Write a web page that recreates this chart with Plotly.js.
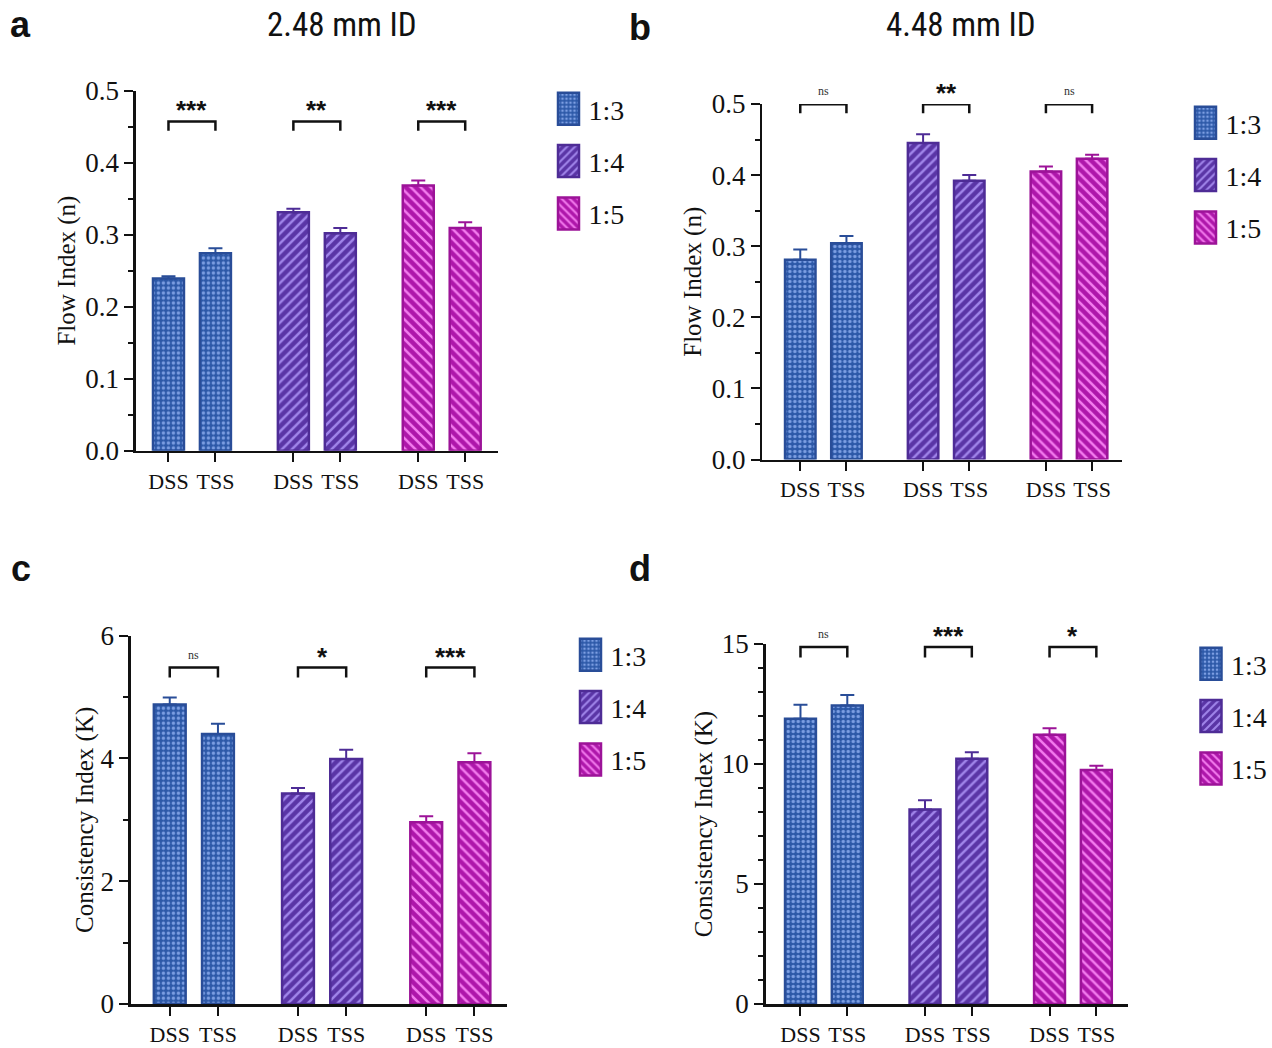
<!DOCTYPE html>
<html>
<head>
<meta charset="utf-8">
<script src="https://cdn.plot.ly/plotly-3.0.1.min.js"></script>
<style>
  html, body { margin: 0; padding: 0; background: #ffffff; }
  #chart { width: 1272px; height: 1048px; }
</style>
</head>
<body>
<div id="chart"></div>
<script>
// ---------------- DATA ----------------
const ratios = ['1:3', '1:4', '1:5'];
const conditions = ['DSS', 'TSS'];

// Panel a: Flow index, 2.48 mm ID
const flow248_DSS = [0.239, 0.331, 0.368];
const flow248_TSS = [0.274, 0.302, 0.309];
const flow248_DSS_err = [0.003, 0.005, 0.007];
const flow248_TSS_err = [0.007, 0.007, 0.008];
const flow248_sig = ['***', '**', '***'];

// Panel b: Flow index, 4.48 mm ID
const flow448_DSS = [0.281, 0.445, 0.405];
const flow448_TSS = [0.304, 0.392, 0.423];
const flow448_DSS_err = [0.0145, 0.0125, 0.007];
const flow448_TSS_err = [0.0105, 0.008, 0.0056];
const flow448_sig = ['ns', '**', 'ns'];

// Panel c: Consistency index, 2.48 mm ID
const cons248_DSS = [4.88, 3.43, 2.96];
const cons248_TSS = [4.40, 3.99, 3.94];
const cons248_DSS_err = [0.115, 0.09, 0.10];
const cons248_TSS_err = [0.165, 0.15, 0.147];
const cons248_sig = ['ns', '*', '***'];

// Panel d: Consistency index, 4.48 mm ID
const cons448_DSS = [11.89, 8.10, 11.22];
const cons448_TSS = [12.44, 10.22, 9.75];
const cons448_DSS_err = [0.58, 0.39, 0.27];
const cons448_TSS_err = [0.43, 0.27, 0.18];
const cons448_sig = ['ns', '***', '*'];

// Significance bracket heights [bar top, leg bottom] per panel
const bracket248_flow = [0.457, 0.444];
const bracket448_flow = [0.4995, 0.487];
const bracket248_cons = [5.48, 5.32];
const bracket448_cons = [14.875, 14.44];

const panelTitles = ['2.48 mm ID', '4.48 mm ID'];
const panelLetters = ['a', 'b', 'c', 'd'];
const yTitles = ['Flow Index (n)', 'Flow Index (n)', 'Consistency Index (K)', 'Consistency Index (K)'];

// ---------------- STYLE ----------------
const W = 1272, H = 1048;
const SERIF = 'Liberation Serif';
const SANS = 'Liberation Sans';
const NARROW = 'Liberation Sans Narrow, Roboto Condensed, DejaVu Sans Condensed, Roboto, sans-serif';

const ratioStyle = [
  {color: '#2D59A8', line: '#294D98', fg: '#7C9EE2', shape: '.', size: 5, solidity: 0.36},
  {color: '#5A35A6', line: '#4E2C96', fg: '#A085EA', shape: '/', size: 7, solidity: 0.36},
  {color: '#AE17AA', line: '#9C1398', fg: '#F37BEE', shape: '\\', size: 7, solidity: 0.36}
];

const GROUP_STEP = 2.66;
const BAR_W = 0.66;
function xpos(g, c) { return g * GROUP_STEP + c; }

const panels = [
  {dss: flow248_DSS, tss: flow248_TSS, de: flow248_DSS_err, te: flow248_TSS_err, sig: flow248_sig, br: bracket248_flow,
   px: [136, 498], py: [90.5, 450.7], yr: [0, 0.5], xr: [-0.694, 7.01], dtick: 0.1, minor: 0.05, fmt: '.1f',
   leg: [548.5, 84], standoff: 3},
  {dss: flow448_DSS, tss: flow448_TSS, de: flow448_DSS_err, te: flow448_TSS_err, sig: flow448_sig, br: bracket448_flow,
   px: [763, 1123], py: [104, 459.5], yr: [0, 0.5], xr: [-0.82, 6.97], dtick: 0.1, minor: 0.05, fmt: '.1f',
   leg: [1185.5, 98], standoff: 3},
  {dss: cons248_DSS, tss: cons248_TSS, de: cons248_DSS_err, te: cons248_TSS_err, sig: cons248_sig, br: bracket248_cons,
   px: [131, 507.6], py: [635.7, 1004], yr: [0, 6], xr: [-0.806, 7.0], dtick: 2, minor: 1, fmt: 'd',
   leg: [570.5, 630], standoff: 0},
  {dss: cons448_DSS, tss: cons448_TSS, de: cons448_DSS_err, te: cons448_TSS_err, sig: cons448_sig, br: bracket448_cons,
   px: [766.3, 1128.6], py: [644, 1004], yr: [0, 15], xr: [-0.743, 6.99], dtick: 5, minor: 1, fmt: 'd',
   leg: [1191.5, 639], standoff: 2}
];

const traces = [];
const annotations = [];
const layout = {
  width: W, height: H,
  margin: {l: 0, r: 0, t: 0, b: 0},
  paper_bgcolor: '#ffffff', plot_bgcolor: '#ffffff',
  barmode: 'overlay',
  showlegend: true,
  annotations: annotations,
  font: {family: SERIF, color: '#111111'}
};

panels.forEach((p, i) => {
  const n = i + 1;
  const xa = n === 1 ? 'x' : 'x' + n;
  const ya = n === 1 ? 'y' : 'y' + n;
  const legId = n === 1 ? 'legend' : 'legend' + n;

  const tickvals = [], ticktext = [];
  ratios.forEach((r, g) => {
    conditions.forEach((c, ci) => { tickvals.push(xpos(g, ci)); ticktext.push(c); });
    const st = ratioStyle[g];
    traces.push({
      type: 'bar', name: r, legend: legId, legendgroup: 'p' + n + 'g' + g,
      x: [xpos(g, 0), xpos(g, 1)], y: [p.dss[g], p.tss[g]],
      xaxis: xa, yaxis: ya, width: BAR_W,
      marker: {
        color: st.color,
        line: {color: st.line, width: 2.5},
        pattern: {shape: st.shape, fgcolor: st.fg, bgcolor: st.color, fillmode: 'replace',
                  size: st.size, solidity: st.solidity}
      },
      error_y: {type: 'data', symmetric: false, array: [p.de[g], p.te[g]], arrayminus: [0, 0],
                color: st.line, thickness: 2, width: 7},
      hoverinfo: 'skip'
    });
    // significance bracket
    const x0 = xpos(g, 0), x1 = xpos(g, 1);
    traces.push({
      type: 'scatter', mode: 'lines', showlegend: false, cliponaxis: false, hoverinfo: 'skip',
      x: [x0, x0, x1, x1], y: [p.br[1], p.br[0], p.br[0], p.br[1]],
      xaxis: xa, yaxis: ya, line: {color: '#111111', width: 2.5}
    });
    const isNs = p.sig[g] === 'ns';
    annotations.push({
      xref: xa, yref: ya, x: (x0 + x1) / 2, y: p.br[0], yanchor: 'bottom', xanchor: 'center',
      text: isNs ? 'ns' : '<b>' + p.sig[g] + '</b>', showarrow: false,
      yshift: isNs ? 4 : -6,
      font: isNs ? {family: SERIF, size: 12, color: '#333333'} : {family: SANS, size: 26, color: '#111111'}
    });
  });

  layout['xaxis' + (n === 1 ? '' : n)] = {
    domain: [p.px[0] / W, p.px[1] / W], anchor: ya,
    range: p.xr, tickvals: tickvals, ticktext: ticktext,
    showline: true, linewidth: 2.5, linecolor: '#111111',
    ticks: 'outside', ticklen: 9, tickwidth: 2, tickcolor: '#111111',
    showgrid: false, zeroline: false, fixedrange: true,
    tickfont: {family: SERIF, size: 22, color: '#111111'}
  };
  layout['yaxis' + (n === 1 ? '' : n)] = {
    domain: [1 - p.py[1] / H, 1 - p.py[0] / H], anchor: xa,
    range: p.yr, dtick: p.dtick, tick0: 0, tickformat: p.fmt,
    showline: true, linewidth: 2.5, linecolor: '#111111',
    ticks: 'outside', ticklen: 9, tickwidth: 2, tickcolor: '#111111',
    minor: {dtick: p.minor, ticks: 'outside', ticklen: 5, tickwidth: 2, tickcolor: '#111111'},
    showgrid: false, zeroline: false, fixedrange: true,
    tickfont: {family: SERIF, size: 27, color: '#111111'},
    title: {text: yTitles[i], font: {family: SERIF, size: 25, color: '#111111'}, standoff: p.standoff}
  };
  layout[legId] = {
    x: p.leg[0] / W, y: 1 - p.leg[1] / H, xanchor: 'left', yanchor: 'top',
    xref: 'paper', yref: 'paper',
    bgcolor: 'rgba(0,0,0,0)', borderwidth: 0,
    font: {family: SERIF, size: 28, color: '#111111'},
    tracegroupgap: 13, itemwidth: 30, traceorder: 'grouped'
  };

  // panel letter
  const letterPos = [[21, 24], [641, 28], [21, 568], [641, 568]][i];
  annotations.push({
    xref: 'paper', yref: 'paper', x: letterPos[0] / W, y: 1 - letterPos[1] / H,
    xanchor: 'center', yanchor: 'middle', showarrow: false,
    text: '<b>' + panelLetters[i] + '</b>', font: {family: SANS, size: 36, color: '#111111'}
  });
});

// panel titles (top row)
[[342, 24], [962, 24]].forEach((pos, k) => {
  annotations.push({
    xref: 'paper', yref: 'paper', x: pos[0] / W, y: 1 - pos[1] / H,
    xanchor: 'center', yanchor: 'middle', showarrow: false,
    text: panelTitles[k], font: {family: NARROW, size: 33, color: '#111111'}
  });
});

Plotly.newPlot('chart', traces, layout, {staticPlot: true, displayModeBar: false}).then(gd => {
  // enlarge legend swatches to tall rectangles as in the figure
  gd.querySelectorAll('path.legendbar, g.legendpoints path').forEach(el => {
    const d = el.getAttribute('d');
    if (d && d.indexOf('M6,6H-6V-6H6Z') === 0) el.setAttribute('d', 'M10.5,16H-10.5V-16H10.5Z');
  });
});
</script>
</body>
</html>
